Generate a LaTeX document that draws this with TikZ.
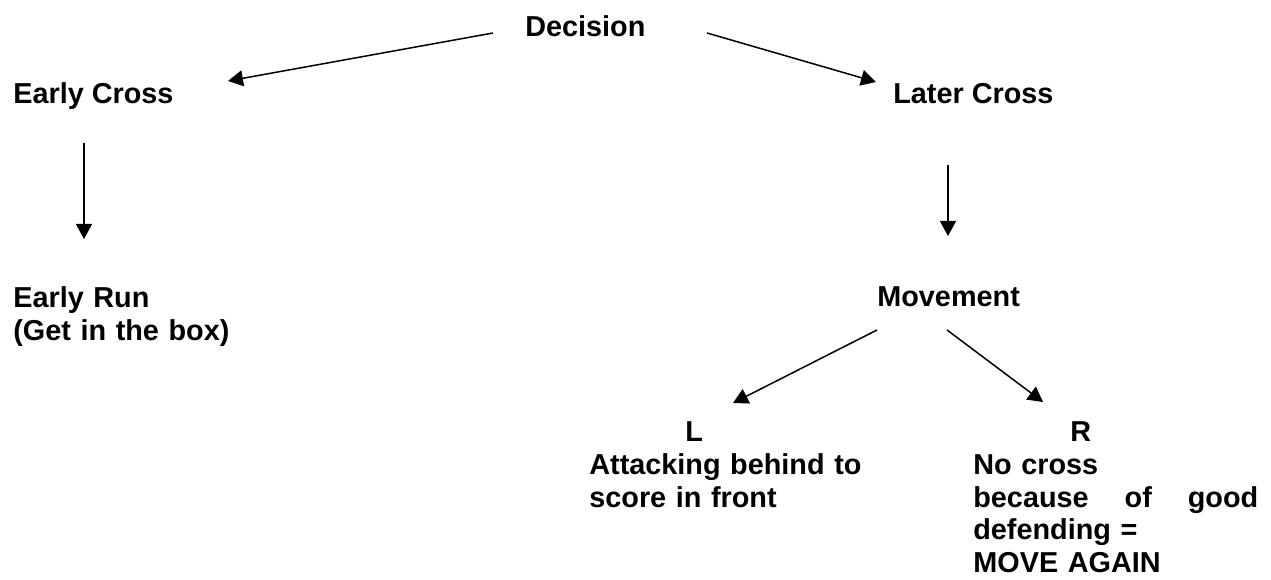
\documentclass[tikz,border=0pt]{standalone}
\usepackage{fontspec}
\setmainfont{Liberation Sans}
\usetikzlibrary{arrows.meta,
				calc}

\begin{document}
\begin{tikzpicture}[x=0.02cm,y=-0.02cm,
		lbl/.style={anchor=base west,inner sep=0pt,align=left,font=\fontsize{16.4}{18.5}\selectfont\bfseries},
		arr/.style={-{Triangle[length=0.3cm,width=0.32cm]},line width=0.85pt}]
		\useasboundingbox (0,0) rectangle (1271,580);
		% texts
		\node[lbl] (dec) at (525,37) {Decision};
		\node[lbl] (early) at (13,104) {Early Cross};
		\node[lbl] (later) at (893,104) {Later Cross};
		\node[lbl,text width=4.6cm] (run) at (13,308) {Early Run\\(Get in the box)};
		\node[lbl] (move) at (877,307) {Movement};
		\node[lbl,text width=5.6cm] (left) at (589,442) {\hspace*{1.92cm}L\\Attacking behind to\\score in front};
		\node[lbl,text width=5.7cm] (right) at (973,442) {\hspace*{1.94cm}R\\No cross\\because\hfill of\hfill good\\defending =\\MOVE AGAIN};
		% arrows
		\draw[arr] ($(dec.base west)+(-32,-4)$) -- ($(early.base west)+(215,-23)$);
		\draw[arr] ($(dec.base west)+(182,-4)$) -- ($(later.base west)+(-17,-22)$);
		\draw[arr] ($(early.base west)+(71,39)$) -- ($(run.base west)+(71,-69)$);
		\draw[arr] ($(later.base west)+(55,61)$) -- ($(move.base west)+(71,-71)$);
		\draw[arr] ($(move.base west)+(0,23)$) -- ($(left.base west)+(144,-39)$);
		\draw[arr] ($(move.base west)+(70,23)$) -- ($(right.base west)+(70,-40)$);
	\end{tikzpicture}
\end{document}
